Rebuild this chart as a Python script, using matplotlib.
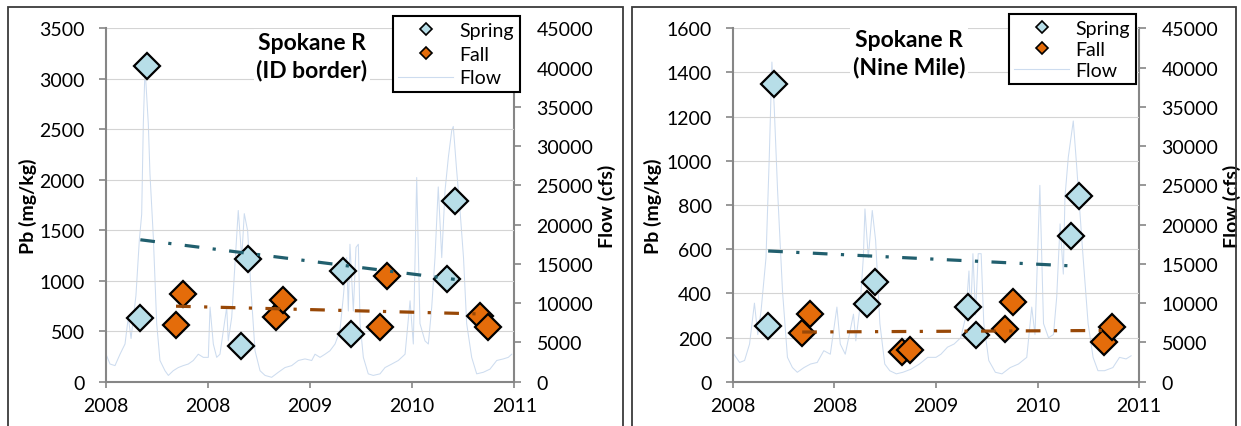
import numpy as np
import matplotlib
matplotlib.use('Agg')
import matplotlib.pyplot as plt
from matplotlib.lines import Line2D
from matplotlib.patches import Rectangle

plt.rcParams['font.family'] = ['Lato', 'DejaVu Sans']

# x axis (decimal years) and the labels as printed on the original chart
x_ticks = [2007, 2008, 2009, 2010, 2011]
x_tick_labels = ['2008', '2008', '2009', '2010', '2011']

# ---- Spokane R (ID border) ----
id_spring_t = [2007.340, 2007.406, 2008.323, 2008.397, 2009.325, 2009.406, 2010.338, 2010.416]
id_spring_pb = [627, 3123, 350, 1215, 1096, 472, 1017, 1786]
id_fall_t = [2007.689, 2007.754, 2008.667, 2008.737, 2009.689, 2009.758, 2010.660, 2010.745]
id_fall_pb = [561, 872, 644, 812, 538, 1043, 654, 545]

id_flow_t = [2007.004, 2007.043, 2007.092, 2007.141, 2007.190, 2007.222, 2007.249, 2007.297,
             2007.330, 2007.353, 2007.369, 2007.386, 2007.418, 2007.434, 2007.467, 2007.500,
             2007.532, 2007.581, 2007.614, 2007.662, 2007.711, 2007.760, 2007.809, 2007.858,
             2007.907, 2007.956, 2008.005, 2008.022, 2008.054, 2008.087, 2008.119, 2008.152,
             2008.185, 2008.200, 2008.234, 2008.266, 2008.298, 2008.332, 2008.357, 2008.390,
             2008.423, 2008.462, 2008.511, 2008.560, 2008.625, 2008.690, 2008.755, 2008.821,
             2008.886, 2008.951, 2009.017, 2009.049, 2009.098, 2009.147, 2009.196, 2009.245,
             2009.293, 2009.326, 2009.359, 2009.375, 2009.391, 2009.424, 2009.450, 2009.473,
             2009.490, 2009.522, 2009.570, 2009.619, 2009.685, 2009.734, 2009.800, 2009.864,
             2009.930, 2009.979, 2010.011, 2010.044, 2010.076, 2010.125, 2010.158, 2010.191,
             2010.223, 2010.255, 2010.289, 2010.321, 2010.354, 2010.387, 2010.402, 2010.435,
             2010.468, 2010.502, 2010.533, 2010.582, 2010.631, 2010.696, 2010.761, 2010.827,
             2010.891, 2010.940, 2010.974]
id_flow_q = [3500, 2250, 2050, 3500, 4800, 8200, 5500, 11000,
             18000, 21300, 32800, 40000, 32800, 26500, 18400, 7400,
             2700, 1400, 800, 1400, 1800, 2050, 2250, 2700,
             3500, 3100, 3100, 9500, 4800, 3100, 3500, 6500,
             9500, 5200, 8200, 15000, 21800, 15800, 21400, 19200,
             11600, 3950, 1400, 800, 560, 1200, 1800, 2050,
             2700, 2900, 2700, 3500, 3100, 3500, 3950, 4800,
             6500, 10800, 15800, 9000, 17500, 9000, 17100, 17500,
             7400, 3100, 1000, 800, 1000, 1800, 2250, 2700,
             3500, 10300, 4800, 26000, 7400, 5200, 4800, 9500,
             15800, 24800, 15800, 24300, 28600, 32000, 32500, 26900,
             21800, 15800, 7400, 3100, 1000, 1200, 1600, 2700,
             2900, 3100, 3500]

# ---- Spokane R (Nine Mile) ----
nm_spring_t = [2007.347, 2007.402, 2008.322, 2008.400, 2009.316, 2009.398, 2010.333, 2010.407]
nm_spring_pb = [254, 1346, 353, 453, 340, 211, 661, 842]
nm_fall_t = [2007.682, 2007.760, 2008.665, 2008.743, 2009.682, 2009.760, 2010.653, 2010.735]
nm_fall_pb = [220, 306, 133, 145, 238, 362, 178, 246]

nm_flow_t = [2007.010, 2007.066, 2007.115, 2007.164, 2007.212, 2007.245, 2007.277, 2007.326,
             2007.358, 2007.384, 2007.407, 2007.440, 2007.488, 2007.537, 2007.586, 2007.634,
             2007.700, 2007.764, 2007.830, 2007.895, 2007.959, 2008.024, 2008.057, 2008.106,
             2008.154, 2008.187, 2008.210, 2008.251, 2008.284, 2008.300, 2008.333, 2008.372,
             2008.405, 2008.447, 2008.495, 2008.544, 2008.609, 2008.674, 2008.755, 2008.836,
             2008.918, 2008.999, 2009.048, 2009.113, 2009.178, 2009.243, 2009.291, 2009.324,
             2009.340, 2009.363, 2009.389, 2009.415, 2009.444, 2009.470, 2009.519, 2009.584,
             2009.649, 2009.730, 2009.811, 2009.893, 2009.942, 2009.974, 2010.022, 2010.058,
             2010.107, 2010.156, 2010.188, 2010.221, 2010.253, 2010.269, 2010.302, 2010.351,
             2010.383, 2010.415, 2010.448, 2010.497, 2010.546, 2010.594, 2010.659, 2010.741,
             2010.806, 2010.871, 2010.920]
nm_flow_q = [3500, 2450, 2700, 4800, 10000, 6000, 9000, 15800,
             28600, 40700, 34900, 24300, 11600, 3100, 1800, 1200,
             1800, 2250, 2450, 3950, 3500, 9500, 4800, 3500,
             6500, 8600, 5200, 9500, 15800, 22000, 15800, 21800,
             18000, 7400, 2250, 1400, 1000, 1200, 1600, 2250,
             3100, 3100, 3500, 4400, 4800, 5600, 8200, 14100,
             8200, 16300, 8500, 16300, 16300, 7400, 2700, 1200,
             1000, 1800, 2250, 3100, 9500, 6000, 25000, 7400,
             5600, 6000, 10800, 20100, 13700, 23500, 28600, 33200,
             27700, 21800, 15800, 7400, 3100, 1400, 1400, 1800,
             3100, 2900, 3300]

SPRING_FILL = '#b7dee8'
FALL_FILL = '#e46c0a'
SPRING_TREND = '#215f6e'
FALL_TREND = '#984807'
FLOW_COLOR = '#cddcef'
AXIS_GRAY = '#868686'

W, H = 1241, 427


def plot_panel(fig, rect, spring_t, spring_pb, fall_t, fall_pb, flow_t, flow_q,
               ymax, ystep, title, title_xy, legend_anchor, legend_spacing,
               ylabel_x, flowlabel_x):
    ax = fig.add_axes(rect)
    ax2 = ax.twinx()

    # flow on secondary axis, drawn underneath the markers
    ax2.plot(flow_t, flow_q, color=FLOW_COLOR, lw=0.75)
    ax.set_zorder(ax2.get_zorder() + 1)
    ax.patch.set_visible(False)

    ax.plot(spring_t, spring_pb, 'D', ms=13.5, mfc=SPRING_FILL, mec='black', mew=1.6, zorder=3)
    ax.plot(fall_t, fall_pb, 'D', ms=13.5, mfc=FALL_FILL, mec='black', mew=1.6, zorder=3)

    # linear trend lines (as Excel draws them), over the markers
    dash = (0, (4.6, 4.2, 1.0, 4.2))
    for t, pb, col in [(spring_t, spring_pb, SPRING_TREND), (fall_t, fall_pb, FALL_TREND)]:
        coef = np.polyfit(t, pb, 1)
        tt = np.array([min(t), max(t)])
        ax.plot(tt, np.polyval(coef, tt), color=col, lw=2.3, ls=dash, zorder=4)

    ax.set_xlim(2007, 2011)
    ax.set_ylim(0, ymax)
    ax.set_yticks(np.arange(0, ymax + 1, ystep))
    ax.set_xticks(x_ticks)
    ax.set_xticklabels(x_tick_labels)
    ax2.set_ylim(0, 45000)
    ax2.set_yticks(np.arange(0, 45001, 5000))

    ax.grid(axis='y', color='#d4d4d4', lw=0.8)
    ax.set_axisbelow(True)

    for s in ['top', 'right']:
        ax.spines[s].set_visible(False)
    for s in ['top', 'left', 'bottom']:
        ax2.spines[s].set_visible(False)
    for s in ['left', 'bottom']:
        ax.spines[s].set_color(AXIS_GRAY)
        ax.spines[s].set_linewidth(1.5)
    ax2.spines['right'].set_color(AXIS_GRAY)
    ax2.spines['right'].set_linewidth(1.5)

    ax.tick_params(axis='y', length=5, width=1.2, color=AXIS_GRAY, pad=10, labelsize=14)
    ax.tick_params(axis='x', length=4, width=1.2, color=AXIS_GRAY, pad=7, labelsize=14)
    ax2.tick_params(axis='y', length=5, width=1.2, color=AXIS_GRAY, pad=11, labelsize=14)

    ax.set_ylabel('Pb (mg/kg)', fontsize=14, fontweight='bold')
    ax.yaxis.set_label_coords(ylabel_x, 0.5)
    ax2.set_ylabel('Flow (cfs)', fontsize=14, fontweight='bold', rotation=90)
    ax2.yaxis.set_label_coords(flowlabel_x, 0.5)

    ax.text(title_xy[0], title_xy[1], title, transform=ax.transAxes, ha='center', va='center',
            fontsize=16.5, fontweight='bold', linespacing=1.3, zorder=5,
            bbox=dict(facecolor='white', edgecolor='none', pad=2))

    handles = [Line2D([], [], marker='D', ls='none', ms=6.5, mfc=SPRING_FILL, mec='black', mew=1.2),
               Line2D([], [], marker='D', ls='none', ms=6.5, mfc=FALL_FILL, mec='black', mew=1.2),
               Line2D([], [], color=FLOW_COLOR, lw=0.8)]
    leg = ax.legend(handles, ['Spring', 'Fall', 'Flow'], loc='upper right',
                    bbox_to_anchor=legend_anchor, bbox_transform=fig.transFigure,
                    fancybox=False, framealpha=1, edgecolor='black', borderaxespad=0,
                    fontsize=14, handlelength=2.8, handletextpad=0.35,
                    labelspacing=legend_spacing, borderpad=0.3)
    leg.get_frame().set_linewidth(1.5)
    leg.set_zorder(10)
    return ax, ax2


fig = plt.figure(figsize=(W / 100, H / 100), dpi=100)

# panel frames (cut off at the bottom, like the source image)
for x0, x1 in [(8, 623), (632, 1236)]:
    fig.patches.append(Rectangle((x0 / W, -0.1), (x1 - x0) / W, 1.1 - 8 / H,
                                 transform=fig.transFigure, fill=False,
                                 edgecolor='#3a3a3a', lw=1.3))

ax_bottom = 1 - 382.7 / H
ax_height = 353.4 / H

plot_panel(fig, [105.6 / W, ax_bottom, 408.8 / W, ax_height],
           id_spring_t, id_spring_pb, id_fall_t, id_fall_pb, id_flow_t, id_flow_q,
           3500, 500, 'Spokane R\n(ID border)', (0.505, 0.921),
           (520 / W, 1 - 17 / H), 0.35, -0.169, 1.204)

plot_panel(fig, [732.9 / W, ax_bottom, 406.3 / W, ax_height],
           nm_spring_t, nm_spring_pb, nm_fall_t, nm_fall_pb, nm_flow_t, nm_flow_q,
           1600, 200, 'Spokane R\n(Nine Mile)', (0.433, 0.930),
           (1136 / W, 1 - 15 / H), 0.2, -0.1755, 1.206)

fig.savefig('out.png', dpi=100)
